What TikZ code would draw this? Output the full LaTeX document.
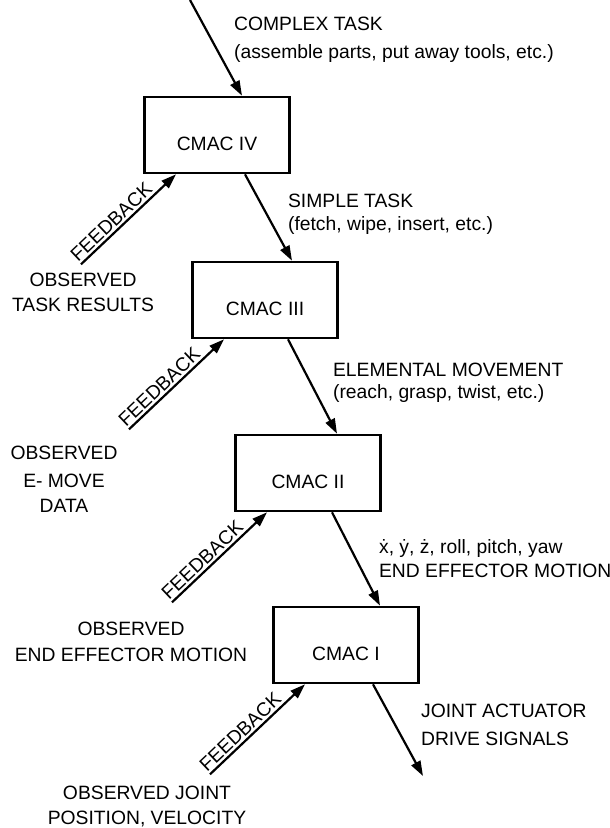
\documentclass[tikz,border=0pt]{standalone}
\usepackage{fontspec}
\setmainfont{Liberation Sans}
\usetikzlibrary{arrows.meta}
\begin{document}
\begin{tikzpicture}[>={Triangle[length=15pt,width=10pt]}, x=1pt, y=-1pt, line width=2.2pt,
  font=\fontsize{19.3}{24}\selectfont,
  box/.style={draw, line width=2.6pt, minimum width=145pt, minimum height=76pt, text height=30pt, text depth=0pt, inner sep=0pt},
  txt/.style={inner sep=0pt, anchor=base west},
  obs/.style={inner sep=0pt, anchor=base},
  fb/.style={sloped, above=1pt, pos=.39, inner sep=1pt}]
\useasboundingbox(0,0)rectangle(610,828);
% the four CMAC levels
\node[box](c4)at(217,135){CMAC IV};
\node[box](c3)at(265,300){CMAC III};
\node[box](c2)at(308,473){CMAC II};
\node[box](c1)at(346,645){CMAC I};
\coordinate(top)at(190,0);
\coordinate(bot)at(423,776);
% commands going down
\draw[->](top)--([xshift=25pt]c4.north);
\draw[->]([xshift=28pt]c4.south)--([xshift=27pt]c3.north);
\draw[->]([xshift=23pt]c3.south)--([xshift=29pt]c2.north);
\draw[->]([xshift=24pt]c2.south)--([xshift=34pt]c1.north);
\draw[->]([xshift=27pt]c1.south)--(bot);
% feedback going up
\foreach \b in {4,3,2,1}{
  \coordinate(f\b)at([xshift=-136pt,yshift=-90pt]c\b.south);
  \draw[->](f\b)--node[fb](l\b){FEEDBACK}([xshift=-41pt]c\b.south);
}
\node[txt](ct1)at(233,30){COMPLEX TASK};
\node[txt](ct2)at(233,58){(assemble parts, put away tools, etc.)};
\node[txt](st1)at(287,207){SIMPLE TASK};
\node[txt](st2)at(287,230){(fetch, wipe, insert, etc.)};
\node[txt](em1)at(332,376){ELEMENTAL MOVEMENT};
\node[txt](em2)at(332,398){(reach, grasp, twist, etc.)};
\node[txt](ee1)at(378,553){\.{x}, \.{y}, \.{z}, roll, pitch, yaw};
\node[txt](ee2)at(378,577){END EFFECTOR MOTION};
\node[txt](ja1)at(420,717){JOINT ACTUATOR};
\node[txt](ja2)at(420,745){DRIVE SIGNALS};
\node[obs](ot1)at(83,286){OBSERVED};
\node[obs](ot2)at(83,311){TASK RESULTS};
\node[obs](oe1)at(64,459){OBSERVED};
\node[obs](oe2)at(64,487){E- MOVE};
\node[obs](oe3)at(64,512){DATA};
\node[obs](om1)at(131,635){OBSERVED};
\node[obs](om2)at(131,661){END EFFECTOR MOTION};
\node[obs](oj1)at(147,799){OBSERVED JOINT};
\node[obs](oj2)at(147,824){POSITION, VELOCITY};
\end{tikzpicture}
\end{document}
